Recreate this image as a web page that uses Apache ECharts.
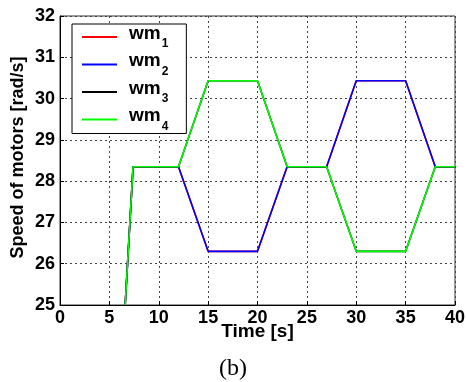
<!DOCTYPE html>
<html><head><meta charset="utf-8">
<script src="https://cdn.jsdelivr.net/npm/echarts@6/dist/echarts.min.js"></script>
<style>html,body{margin:0;padding:0;background:#fff}#c{width:466px;height:382px}</style>
</head><body><div id="c"></div>
<script>
const seriesNames = ['1', '2', '3', '4'];
const seriesColors = ['#ff0000', '#0000ff', '#000000', '#00ff00'];
const time = [6.6, 7.4, 12, 15, 20, 23, 27, 30, 35, 38, 40];
const wm1 = [25, 28.35, 28.35, 26.3, 26.3, 28.35, 28.35, 30.43, 30.43, 28.35, 28.35];
const wm2 = [25, 28.35, 28.35, 26.3, 26.3, 28.35, 28.35, 30.43, 30.43, 28.35, 28.35];
const wm3 = [25, 28.35, 28.35, 30.43, 30.43, 28.35, 28.35, 26.3, 26.3, 28.35, 28.35];
const wm4 = [25, 28.35, 28.35, 30.43, 30.43, 28.35, 28.35, 26.3, 26.3, 28.35, 28.35];
const allValues = [wm1, wm2, wm3, wm4];

const chart = echarts.init(document.getElementById('c'), null, {renderer: 'canvas'});
const font = '"Liberation Sans", Arial, sans-serif';
chart.setOption({
  animation: false,
  backgroundColor: '#fff',
  title: {
    text: '(b)', left: 'center', top: 352,
    textStyle: {fontFamily: '"Liberation Serif", "Times New Roman", serif', fontSize: 24, fontWeight: 'normal', color: '#000'}
  },
  grid: {left: 60, right: 11, top: 16, bottom: 77, show: true, borderColor: '#333', borderWidth: 1, outerBoundsMode: 'none', containLabel: false},
  legend: {
    left: 72, top: 24, orient: 'vertical',
    backgroundColor: '#fff', borderColor: '#000', borderWidth: 1,
    padding: [0, 18, 1, 10], itemGap: 1.5,
    itemWidth: 35, itemHeight: 2, icon: 'rect',
    data: seriesNames.map(n => ({name: 'wm' + n})),
    formatter: name => '{m|wm}{s|' + name.slice(2) + '}',
    textStyle: {
      rich: {
        m: {fontFamily: font, fontWeight: 'bold', fontSize: 19, color: '#000', lineHeight: 26, verticalAlign: 'top', padding: [0, 0, 0, 7]},
        s: {fontFamily: font, fontWeight: 'bold', fontSize: 12, color: '#000', verticalAlign: 'bottom', padding: [0, 0, 0, 1]}
      }
    }
  },
  xAxis: {
    type: 'value', min: 0, max: 40, interval: 5,
    name: 'Time [s]', nameLocation: 'middle', nameGap: 17, nameMoveOverlap: false,
    nameTextStyle: {fontFamily: font, fontWeight: 'bold', fontSize: 19, color: '#000'},
    axisLine: {show: true, lineStyle: {color: '#000', width: 1}},
    axisTick: {show: true, inside: true, length: 4, lineStyle: {color: '#000'}},
    axisLabel: {fontFamily: font, fontWeight: 'bold', fontSize: 18, color: '#000', margin: 4},
    splitLine: {show: true, lineStyle: {color: '#444', type: [2, 3], width: 1}}
  },
  yAxis: {
    type: 'value', min: 25, max: 32, interval: 1,
    name: 'Speed of motors [rad/s]', nameLocation: 'middle', nameGap: 33, nameMoveOverlap: false,
    nameTextStyle: {fontFamily: font, fontWeight: 'bold', fontSize: 18, color: '#000', padding: [0, 0, 0, 6]},
    axisLine: {show: true, lineStyle: {color: '#000', width: 1}},
    axisTick: {show: true, inside: true, length: 4, lineStyle: {color: '#000'}},
    axisLabel: {fontFamily: font, fontWeight: 'bold', fontSize: 18, color: '#000', margin: 5},
    splitLine: {show: true, lineStyle: {color: '#444', type: [2, 3], width: 1}}
  },
  series: seriesNames.map((n, i) => ({
    name: 'wm' + n, type: 'line', showSymbol: false, symbol: 'none',
    clip: true,
    lineStyle: {color: seriesColors[i], width: 1.6},
    itemStyle: {color: seriesColors[i]},
    data: time.map((t, k) => [t, allValues[i][k]])
  }))
});
</script></body></html>
